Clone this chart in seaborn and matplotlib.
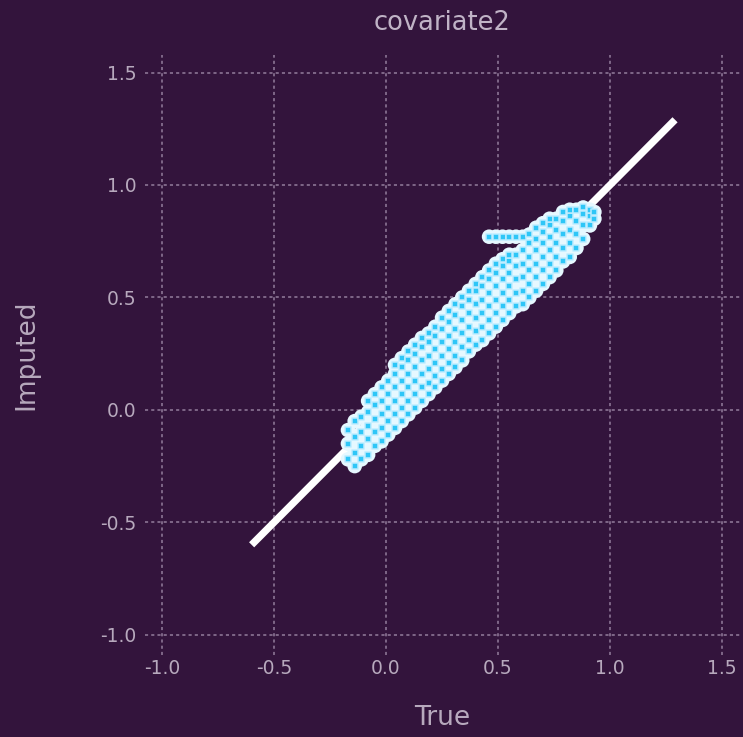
import matplotlib
matplotlib.use("Agg")
import matplotlib.pyplot as plt
import seaborn as sns
import pandas as pd

# ---- data ----
true_cols = [-0.17, -0.14, -0.11, -0.08, -0.05, -0.02, 0.01, 0.04, 0.07, 0.10,
             0.13, 0.16, 0.19, 0.22, 0.25, 0.28, 0.31, 0.34, 0.37, 0.40,
             0.43, 0.46, 0.49, 0.52, 0.55, 0.58, 0.61, 0.64, 0.67, 0.70,
             0.73, 0.76, 0.79, 0.82, 0.85, 0.88, 0.91, 0.93]
imputed_cols = [
    [-0.22, -0.15, -0.09],
    [-0.25, -0.19, -0.12, -0.05],
    [-0.22, -0.16, -0.10, -0.03],
    [-0.20, -0.13, -0.07, -0.01, 0.04],
    [-0.16, -0.10, -0.04, 0.02, 0.07],
    [-0.14, -0.08, -0.02, 0.04, 0.10],
    [-0.11, -0.05, 0.01, 0.07, 0.13],
    [-0.08, -0.02, 0.04, 0.10, 0.16, 0.20],
    [-0.05, 0.01, 0.07, 0.13, 0.19, 0.23],
    [-0.02, 0.04, 0.10, 0.16, 0.22, 0.26],
    [0.01, 0.07, 0.13, 0.19, 0.25, 0.29],
    [0.04, 0.10, 0.16, 0.22, 0.28, 0.32],
    [0.07, 0.12, 0.18, 0.24, 0.30, 0.34],
    [0.10, 0.15, 0.21, 0.27, 0.33, 0.37],
    [0.13, 0.18, 0.24, 0.30, 0.36, 0.41],
    [0.16, 0.21, 0.27, 0.33, 0.39, 0.44],
    [0.19, 0.24, 0.30, 0.36, 0.42, 0.47],
    [0.22, 0.28, 0.34, 0.40, 0.46, 0.50],
    [0.26, 0.31, 0.37, 0.43, 0.49, 0.53],
    [0.29, 0.35, 0.41, 0.47, 0.53, 0.56],
    [0.31, 0.37, 0.43, 0.49, 0.55, 0.59],
    [0.34, 0.40, 0.46, 0.52, 0.58, 0.62, 0.77],
    [0.37, 0.43, 0.49, 0.55, 0.61, 0.65, 0.77],
    [0.40, 0.46, 0.52, 0.58, 0.64, 0.67, 0.77],
    [0.43, 0.49, 0.55, 0.61, 0.66, 0.69, 0.77],
    [0.46, 0.52, 0.58, 0.64, 0.69, 0.77],
    [0.47, 0.53, 0.59, 0.65, 0.71, 0.77],
    [0.50, 0.56, 0.62, 0.68, 0.74, 0.78],
    [0.53, 0.59, 0.65, 0.71, 0.76, 0.81],
    [0.56, 0.62, 0.68, 0.74, 0.79, 0.83],
    [0.59, 0.65, 0.71, 0.77, 0.82, 0.85],
    [0.62, 0.68, 0.74, 0.80, 0.85],
    [0.66, 0.72, 0.78, 0.84, 0.88],
    [0.68, 0.74, 0.80, 0.86, 0.89],
    [0.72, 0.78, 0.84, 0.89],
    [0.76, 0.82, 0.87, 0.90],
    [0.82, 0.86, 0.89],
    [0.85, 0.88],
]
diag = [-0.6, 1.29]
ticks = [-1.0, -0.5, 0.0, 0.5, 1.0, 1.5]
title = "covariate2"
xlabel = "True"
ylabel = "Imputed"

rows = []
for t, ys in zip(true_cols, imputed_cols):
    for y in ys:
        rows.append((t, y))
df = pd.DataFrame(rows, columns=["True", "Imputed"])
line_df = pd.DataFrame({"x": diag, "y": diag})

BG = "#33143c"
TXT = "#b7a9bd"
GRID = "#7f6788"

sns.set_theme(style="dark", rc={
    "axes.facecolor": BG,
    "figure.facecolor": BG,
    "grid.color": GRID,
    "axes.edgecolor": BG,
    "text.color": TXT,
    "axes.labelcolor": TXT,
    "xtick.color": TXT,
    "ytick.color": TXT,
})
plt.rcParams["font.family"] = ["DejaVu Sans"]

fig = plt.figure(figsize=(7.43, 7.37), dpi=100)
ax = fig.add_axes([145 / 743, 1 - 655 / 737, (740 - 145) / 743, (655 - 55) / 737])
ax.set_facecolor(BG)

sns.lineplot(data=line_df, x="x", y="y", ax=ax, color="white", linewidth=5.2,
             solid_capstyle="butt", zorder=2)
# halo layer
sns.scatterplot(data=df, x="True", y="Imputed", ax=ax, s=110, marker="o",
                color="#e6f8ff", edgecolor="none", linewidth=0, zorder=3)
# cyan cores
sns.scatterplot(data=df, x="True", y="Imputed", ax=ax, s=16, marker="s",
                color="#2ec6f7", edgecolor=(0.75, 0.93, 1.0, 0.9),
                linewidth=1.2, zorder=4)

ax.set_xlim(-1.076, 1.58)
ax.set_ylim(-1.09, 1.578)
ax.set_xticks(ticks)
ax.set_yticks(ticks)
ax.set_xticklabels([f"{v:.1f}" for v in ticks])
ax.set_yticklabels([f"{v:.1f}" for v in ticks])
ax.grid(True, color=GRID, linestyle=(0, (1.6, 1.6)), linewidth=1.4)
ax.set_axisbelow(True)
for s in ax.spines.values():
    s.set_visible(False)
ax.tick_params(axis="both", length=0, labelsize=13.5, colors=TXT)
ax.tick_params(axis="x", pad=3)
ax.tick_params(axis="y", pad=6)
ax.set_title(title, fontsize=18.5, color="#c0b3c6", pad=18)
ax.set_xlabel(xlabel, fontsize=19, color=TXT, labelpad=19)
ax.set_ylabel(ylabel, fontsize=19, color=TXT, labelpad=44)

fig.savefig("out.png", dpi=100, facecolor=BG)
